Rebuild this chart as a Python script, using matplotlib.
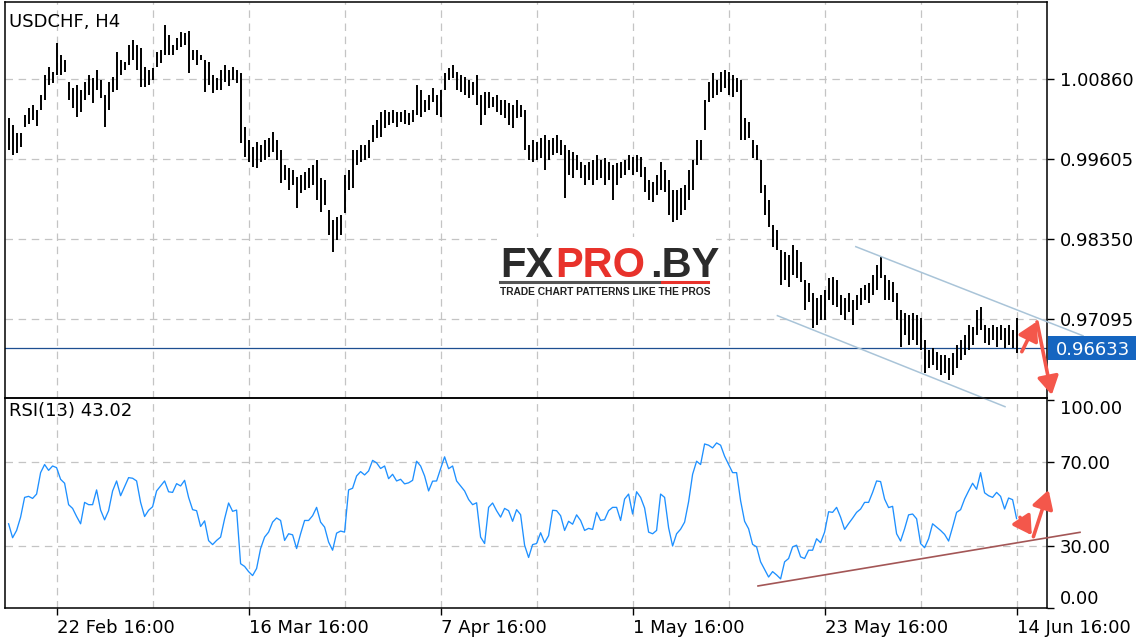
import matplotlib
matplotlib.use("Agg")
import matplotlib.pyplot as plt
import matplotlib.transforms as mtransforms
from matplotlib.lines import Line2D
from matplotlib.patches import Rectangle

plt.rcParams['font.family'] = ['DejaVu Sans']

# ---------------- data (H4 bars) ----------------
symbol_title = "USDCHF, H4"
rsi_title = "RSI(13) 43.02"
last_price = 0.96633

highs = [1.0025, 1.0014, 1.0001, 1.0001, 1.0029, 1.0040, 1.0045, 1.0037, 1.0061, 1.0092,
         1.0105, 1.0097, 1.0142, 1.0124, 1.0116, 1.0081, 1.0072, 1.0077, 1.0069, 1.0081,
         1.0092, 1.0088, 1.0100, 1.0084, 1.0061, 1.0081, 1.0089, 1.0128, 1.0116, 1.0113,
         1.0139, 1.0147, 1.0139, 1.0135, 1.0105, 1.0100, 1.0103, 1.0128, 1.0132, 1.0171,
         1.0155, 1.0139, 1.0150, 1.0160, 1.0158, 1.0161, 1.0132, 1.0132, 1.0124, 1.0116,
         1.0113, 1.0092, 1.0088, 1.0100, 1.0108, 1.0100, 1.0105, 1.0100, 1.0095, 1.0011,
         0.9990, 0.9979, 0.9987, 0.9982, 0.9990, 0.9993, 1.0003, 0.9990, 0.9975, 0.9951,
         0.9946, 0.9943, 0.9932, 0.9935, 0.9940, 0.9946, 0.9951, 0.9959, 0.9931, 0.9927,
         0.9880, 0.9865, 0.9869, 0.9872, 0.9935, 0.9943, 0.9975, 0.9975, 0.9982, 0.9982,
         0.9990, 1.0014, 1.0022, 1.0034, 1.0037, 1.0034, 1.0037, 1.0034, 1.0034, 1.0037,
         1.0033, 1.0037, 1.0077, 1.0069, 1.0053, 1.0061, 1.0072, 1.0061, 1.0069, 1.0095,
         1.0103, 1.0108, 1.0097, 1.0092, 1.0089, 1.0084, 1.0081, 1.0092, 1.0061, 1.0066,
         1.0066, 1.0058, 1.0061, 1.0053, 1.0053, 1.0048, 1.0045, 1.0053, 1.0045, 1.0037,
         0.9982, 0.9990, 0.9987, 0.9993, 0.9998, 0.9990, 0.9993, 0.9998, 0.9990, 0.9982,
         0.9975, 0.9971, 0.9967, 0.9956, 0.9951, 0.9956, 0.9959, 0.9967, 0.9959, 0.9962,
         0.9956, 0.9951, 0.9954, 0.9956, 0.9959, 0.9967, 0.9964, 0.9967, 0.9964, 0.9948,
         0.9927, 0.9924, 0.9935, 0.9956, 0.9943, 0.9927, 0.9912, 0.9912, 0.9915, 0.9920,
         0.9943, 0.9959, 0.9990, 0.9990, 1.0053, 1.0081, 1.0095, 1.0084, 1.0097, 1.0100,
         1.0097, 1.0092, 1.0088, 1.0084, 1.0025, 1.0018, 0.9990, 0.9982, 0.9959, 0.9920,
         0.9896, 0.9857, 0.9849, 0.9818, 0.9814, 0.9810, 0.9825, 0.9818, 0.9799, 0.9770,
         0.9766, 0.9750, 0.9742, 0.9747, 0.9755, 0.9774, 0.9775, 0.9770, 0.9747, 0.9742,
         0.9750, 0.9739, 0.9747, 0.9758, 0.9763, 0.9766, 0.9778, 0.9794, 0.9807, 0.9778,
         0.9770, 0.9767, 0.9750, 0.9723, 0.9719, 0.9715, 0.9719, 0.9715, 0.9711, 0.9676,
         0.9661, 0.9664, 0.9657, 0.9653, 0.9653, 0.9648, 0.9656, 0.9668, 0.9676, 0.9684,
         0.9700, 0.9697, 0.9723, 0.9728, 0.9700, 0.9695, 0.9700, 0.9697, 0.9700, 0.9695,
         0.9700, 0.9692, 0.9711]

lows = [0.9975, 0.9967, 0.9970, 0.9979, 1.0011, 1.0015, 1.0022, 1.0012, 1.0037, 1.0053,
        1.0077, 1.0080, 1.0092, 1.0092, 1.0097, 1.0053, 1.0040, 1.0026, 1.0034, 1.0053,
        1.0061, 1.0048, 1.0069, 1.0056, 1.0011, 1.0037, 1.0066, 1.0069, 1.0092, 1.0100,
        1.0108, 1.0116, 1.0100, 1.0073, 1.0073, 1.0077, 1.0084, 1.0105, 1.0111, 1.0124,
        1.0124, 1.0124, 1.0132, 1.0136, 1.0139, 1.0095, 1.0116, 1.0108, 1.0116, 1.0066,
        1.0077, 1.0064, 1.0069, 1.0069, 1.0081, 1.0075, 1.0084, 1.0080, 0.9985, 0.9964,
        0.9956, 0.9948, 0.9946, 0.9956, 0.9959, 0.9964, 0.9971, 0.9959, 0.9923, 0.9927,
        0.9912, 0.9920, 0.9883, 0.9907, 0.9912, 0.9915, 0.9920, 0.9896, 0.9877, 0.9888,
        0.9841, 0.9814, 0.9833, 0.9841, 0.9876, 0.9912, 0.9915, 0.9951, 0.9956, 0.9959,
        0.9962, 0.9987, 0.9993, 0.9995, 1.0009, 1.0014, 1.0017, 1.0011, 1.0018, 1.0015,
        1.0014, 1.0018, 1.0029, 1.0026, 1.0034, 1.0037, 1.0050, 1.0029, 1.0026, 1.0069,
        1.0084, 1.0088, 1.0069, 1.0066, 1.0061, 1.0056, 1.0061, 1.0045, 1.0014, 1.0029,
        1.0040, 1.0042, 1.0034, 1.0029, 1.0025, 1.0014, 1.0009, 1.0025, 1.0026, 0.9975,
        0.9959, 0.9956, 0.9959, 0.9962, 0.9943, 0.9959, 0.9967, 0.9970, 0.9967, 0.9899,
        0.9935, 0.9931, 0.9943, 0.9931, 0.9920, 0.9927, 0.9920, 0.9927, 0.9931, 0.9920,
        0.9927, 0.9896, 0.9920, 0.9931, 0.9935, 0.9943, 0.9935, 0.9940, 0.9932, 0.9909,
        0.9896, 0.9893, 0.9904, 0.9912, 0.9909, 0.9872, 0.9861, 0.9865, 0.9872, 0.9880,
        0.9896, 0.9912, 0.9951, 0.9959, 1.0006, 1.0050, 1.0056, 1.0061, 1.0066, 1.0072,
        1.0061, 1.0058, 1.0066, 0.9990, 0.9990, 0.9993, 0.9962, 0.9959, 0.9907, 0.9872,
        0.9854, 0.9822, 0.9818, 0.9763, 0.9770, 0.9759, 0.9778, 0.9774, 0.9767, 0.9723,
        0.9736, 0.9695, 0.9700, 0.9708, 0.9708, 0.9739, 0.9731, 0.9728, 0.9715, 0.9708,
        0.9720, 0.9700, 0.9723, 0.9731, 0.9739, 0.9734, 0.9747, 0.9755, 0.9774, 0.9739,
        0.9739, 0.9736, 0.9708, 0.9665, 0.9684, 0.9668, 0.9676, 0.9668, 0.9661, 0.9624,
        0.9632, 0.9637, 0.9629, 0.9621, 0.9624, 0.9613, 0.9621, 0.9632, 0.9645, 0.9653,
        0.9661, 0.9668, 0.9684, 0.9692, 0.9671, 0.9668, 0.9676, 0.9665, 0.9676, 0.9664,
        0.9668, 0.9664, 0.9656]

rsi = [40.5, 33.8, 37.3, 43.7, 53.2, 53.7, 52.7, 54.8, 65.1, 69.0,
       66.2, 68.3, 67.5, 61.9, 60.0, 49.7, 47.9, 44.0, 40.5, 50.8,
       49.7, 49.7, 56.8, 47.1, 42.4, 46.8, 56.3, 61.1, 54.0, 58.4,
       62.7, 62.4, 61.1, 50.8, 44.0, 47.0, 48.7, 56.3, 58.7, 61.1,
       55.9, 55.6, 59.8, 58.7, 61.4, 53.2, 47.3, 46.8, 39.2, 41.9,
       32.4, 30.5, 32.5, 34.1, 42.9, 50.5, 46.5, 47.1, 21.3, 20.0,
       17.5, 15.6, 19.0, 28.6, 34.1, 36.5, 41.3, 43.3, 42.1, 32.5,
       35.7, 35.2, 28.6, 35.7, 42.1, 42.1, 44.4, 48.4, 41.3, 38.9,
       31.7, 27.8, 36.0, 37.0, 36.5, 56.8,
       57.6, 63.5, 65.6, 64.0, 65.9, 71.0, 69.8, 67.1, 68.3, 62.2,
       64.3, 61.1, 61.9, 59.7, 60.2, 61.4, 70.6, 68.3, 63.5, 56.3,
       61.0, 61.1, 67.0, 72.7, 67.0, 68.3, 61.1, 58.7, 56.3, 52.2,
       49.7, 50.6, 34.1, 31.0, 48.4, 50.5, 46.8, 43.7, 47.9, 46.8,
       41.7, 47.3, 44.9, 30.2, 24.3, 30.5, 31.0, 36.2, 31.4, 34.8,
       47.0, 46.8, 44.4, 37.3, 41.7, 40.3, 44.8, 42.1, 37.3, 38.3,
       37.8, 46.0, 42.1, 42.5, 46.8, 48.4, 48.4, 42.1, 52.4, 54.8,
       45.2, 55.9, 53.2, 48.1, 36.5, 35.7, 37.3, 54.8, 53.2, 38.6,
       29.8, 35.7, 37.9, 41.3, 51.1,
       64.3, 70.6, 69.0, 78.9, 78.3, 77.0, 79.4, 78.3, 73.0, 69.0,
       65.1, 65.1, 51.6, 41.7, 38.1, 30.6, 29.4, 22.2, 18.6, 14.9,
       17.5, 15.9, 14.0, 22.2, 23.8, 29.4, 30.2, 24.6, 23.8, 27.8,
       27.8, 33.3, 31.4, 36.5, 46.3, 46.0, 48.4, 43.7, 37.8, 40.6,
       43.2, 46.0, 47.6, 50.8, 50.8, 55.6, 61.1, 60.8, 52.4, 48.3,
       48.9, 35.7, 32.2, 38.1, 44.8, 45.2, 42.9, 31.0, 29.0, 33.3,
       40.5, 38.9, 37.3, 35.4, 32.2, 38.9, 46.0, 47.3, 52.4, 56.3,
       60.0, 57.1, 65.1, 55.4, 54.0, 53.2, 55.6, 53.7, 47.6, 52.9,
       52.1, 43.0]

price_ticks = [1.00860, 0.99605, 0.98350, 0.97095]
rsi_ticks = [0, 30, 70, 100]
date_labels = ["22 Feb 16:00", "16 Mar 16:00", "7 Apr 16:00",
               "1 May 16:00", "23 May 16:00", "14 Jun 16:00"]
date_bars = [12, 60, 108, 156, 204, 252]
grid_bars = [12, 36, 60, 84, 108, 132, 156, 180, 204, 228, 252]

# drawn annotations (bar index, value)
channel_upper = ([211.8, 268.6], [0.98227, 0.96828])
channel_lower = ([192.2, 249.1], [0.97144, 0.95715])
rsi_support = ([187.35, 267.85], [10.6, 36.4])
price_arrows = [((253.3, 0.96578), (257.0, 0.97049)),
                ((257.1, 0.97045), (260.8, 0.95899))]
rsi_arrows = [((252.85, 43.6), (255.8, 35.0)),
              ((256.2, 34.3), (260.0, 56.8))]

# ---------------- figure ----------------
W, H = 1136, 640
fig = plt.figure(figsize=(W / 100, H / 100), dpi=100)
fig.patch.set_facecolor("white")


def fx(px):
    return px / W


def fy(py):
    return 1 - py / H


L, R = 4.5, 1047
ax = fig.add_axes([fx(L), fy(398), fx(R) - fx(L), fy(2) - fy(398)])
axr = fig.add_axes([fx(L), fy(608), fx(R) - fx(L), fy(398) - fy(608)], sharex=ax)
axr.patch.set_alpha(0)

GRID = "#c4c4c4"
DASH = (0, (6, 4.5))
TXT = 13

n = len(highs)
idx = list(range(n))

# grid
for g in grid_bars:
    ax.axvline(g, color=GRID, lw=0.9, ls=DASH, zorder=0)
    axr.axvline(g, color=GRID, lw=0.9, ls=DASH, zorder=0)
for p in price_ticks:
    ax.axhline(p, color=GRID, lw=0.9, ls=DASH, zorder=0)
for r in [30, 70]:
    axr.axhline(r, color=GRID, lw=0.9, ls=DASH, zorder=0)

# price bars
ax.vlines(idx, lows, highs, color="black", lw=1.4, zorder=3)
ax.axhline(last_price, color="#1d4f91", lw=0.9, zorder=2)

ax.set_xlim(-1.025, 259.6)
ax.set_ylim(0.95851, 1.02069)

# RSI
axr.plot(idx, rsi, color="#1e90ff", lw=0.95, zorder=3)
axr.set_ylim(0, 101)

# axes styling
for a in (ax, axr):
    for s in a.spines.values():
        s.set_linewidth(1.1)
        s.set_color("black")
    a.yaxis.tick_right()
    a.tick_params(axis="y", length=5, width=1, pad=4, labelsize=TXT, colors="black")

ax.set_yticks(price_ticks)
ax.set_yticklabels([f"{p:.5f}" for p in price_ticks])
ax.tick_params(axis="x", bottom=False, labelbottom=False)

axr.set_yticks(rsi_ticks)
axr.set_yticklabels([f"{r:.2f}" for r in rsi_ticks])
ylabels = axr.get_yticklabels()
ylabels[0].set_verticalalignment("bottom")
ylabels[-1].set_verticalalignment("top")

axr.set_xticks(date_bars)
axr.set_xticklabels(date_labels)
axr.tick_params(axis="x", length=5, width=1, pad=3, labelsize=TXT)
for lbl in axr.get_xticklabels():
    lbl.set_horizontalalignment("left")

# titles
fig.text(fx(9), fy(27), symbol_title, fontsize=TXT, va="baseline", ha="left")
fig.text(fx(9), fy(416), rsi_title, fontsize=TXT, va="baseline", ha="left")

# last-price label box
blend = mtransforms.blended_transform_factory(fig.transFigure, ax.transData)
box_h = 0.00377
ax.add_patch(Rectangle((fx(1048), last_price - box_h / 2), fx(1136) - fx(1048), box_h,
                       transform=blend, facecolor="#1565c0", edgecolor="none",
                       clip_on=False, zorder=5))
ax.text(fx(1056), last_price, f"{last_price:.5f}", transform=blend, color="white",
        fontsize=TXT, va="center_baseline", ha="left", zorder=6, clip_on=False)

# channel + support lines
ax.plot(*channel_upper, color="#a9c4d8", lw=1.1, clip_on=False, zorder=4)
ax.plot(*channel_lower, color="#a9c4d8", lw=1.1, clip_on=False, zorder=4)
axr.plot(*rsi_support, color="#a35656", lw=1.2, clip_on=False, zorder=4)

# arrows
arrow_kw = dict(arrowstyle="-|>,head_length=0.55,head_width=0.32", color="#f4574b",
                lw=2.6, shrinkA=0, shrinkB=0, mutation_scale=20)
for (s, e) in price_arrows:
    ax.annotate("", xy=e, xytext=s, arrowprops=arrow_kw, annotation_clip=False, zorder=7)
for (s, e) in rsi_arrows:
    axr.annotate("", xy=e, xytext=s, arrowprops=arrow_kw, annotation_clip=False, zorder=7)

# watermark logo
fig.patches.append(Rectangle((fx(497), fy(298)), fx(716) - fx(497), fy(237) - fy(298),
                             transform=fig.transFigure, facecolor="white",
                             edgecolor="none", zorder=1))
logo_kw = dict(fontsize=30, fontweight="bold", family="Liberation Sans",
               va="baseline", ha="left", zorder=2)
fig.text(fx(500), fy(277), "FX", color="#2b2b2b", **logo_kw)
fig.text(fx(555), fy(277), "PRO", color="#e8322b", **logo_kw)
fig.text(fx(650), fy(277), ".BY", color="#2b2b2b", **logo_kw)
fig.lines.append(Line2D([fx(500), fx(662)], [fy(282), fy(282)], transform=fig.transFigure,
                        color="#555555", lw=2.2, zorder=2))
fig.lines.append(Line2D([fx(662), fx(708)], [fy(282), fy(282)], transform=fig.transFigure,
                        color="#e8322b", lw=2.2, zorder=2))
fig.text(fx(500), fy(295), "TRADE CHART PATTERNS LIKE THE PROS", color="#222222",
         fontsize=7.4, fontweight="bold", family="Liberation Sans",
         va="baseline", ha="left", zorder=2)

fig.savefig("out.png", dpi=100)
